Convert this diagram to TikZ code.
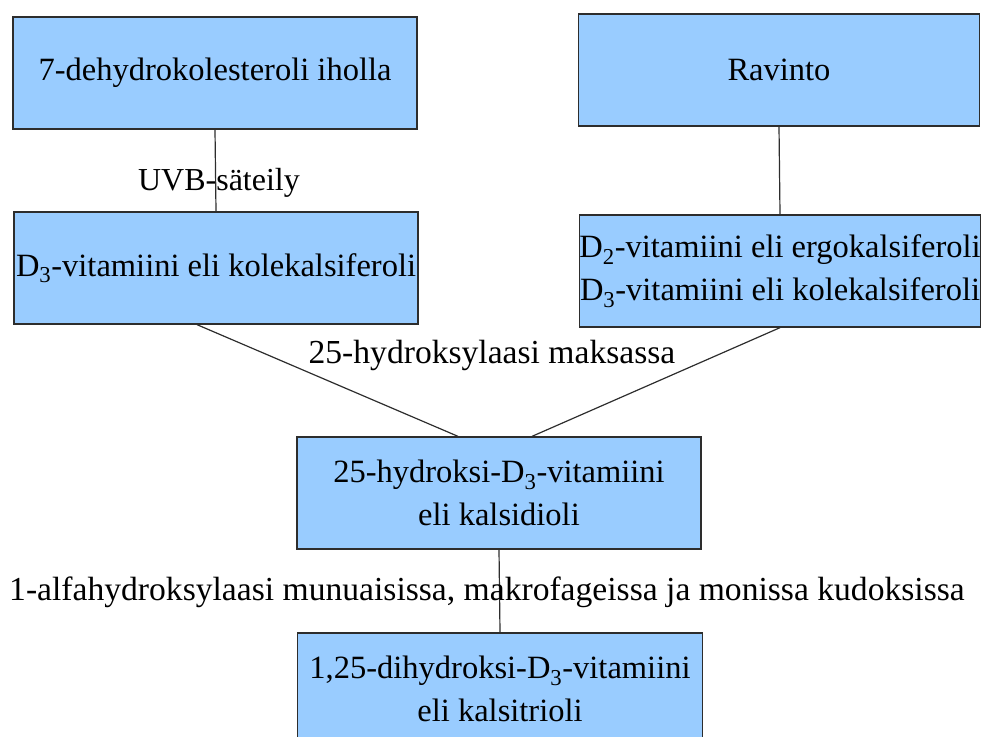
\documentclass[tikz,border=0pt]{standalone}
\usepackage{fontspec}
\setmainfont{Liberation Serif}
\definecolor{cBox}{RGB}{153,204,255}
\definecolor{cEdge}{RGB}{45,45,45}

\begin{document}
\begin{tikzpicture}[x=1pt,y=-1pt,
  box/.style={draw=cEdge,fill=cBox,line width=1.3pt,minimum width=404pt,
    minimum height=112pt,inner sep=0pt,align=center,font=\fontsize{32.5}{43}\selectfont},
  lbl/.style={inner sep=0pt,font=\fontsize{33.6}{38}\selectfont},
  conn/.style={draw=cEdge,line width=1.2pt}]
\useasboundingbox (0,0) rectangle (981,736);
% source boxes
\node[box] (ihol) at (215,73) {7-dehydrokolesteroli iholla};
\node[box,minimum width=401pt] (ravi) at (779,70) {Ravinto};
\node[box] (kole) at (216,268) {D\textsubscript{3}-vitamiini eli kolekalsiferoli};
\node[box,minimum width=400pt] (ergo) at (780,271)
  {D\textsubscript{2}-vitamiini eli ergokalsiferoli\\D\textsubscript{3}-vitamiini eli kolekalsiferoli};
% liver and kidney steps
\node[box] (kals) at (499,493) {25-hydroksi-D\textsubscript{3}-vitamiini\\eli kalsidioli};
\node[box,minimum width=405pt] (trio) at (500,689) {1,25-dihydroksi-D\textsubscript{3}-vitamiini\\eli kalsitrioli};
% connectors
\draw[conn] (ihol.south) -- (kole.north);
\draw[conn] (ravi.south) -- (ergo.north);
\draw[conn] ([xshift=-19pt]kole.south) -- ([xshift=-41pt]kals.north);
\draw[conn] (ergo.south) -- ([xshift=33pt]kals.north);
\draw[conn] (kals.south) -- (trio.north);
% labels
\node[lbl,font=\fontsize{32}{38}\selectfont] (uvb) at (219,183) {UVB-säteily};
\node[lbl] (maks) at (492,355) {25-hydroksylaasi maksassa};
\node[lbl] (muna) at (487,592) {1-alfahydroksylaasi munuaisissa, makrofageissa ja monissa kudoksissa};
\end{tikzpicture}
\end{document}
